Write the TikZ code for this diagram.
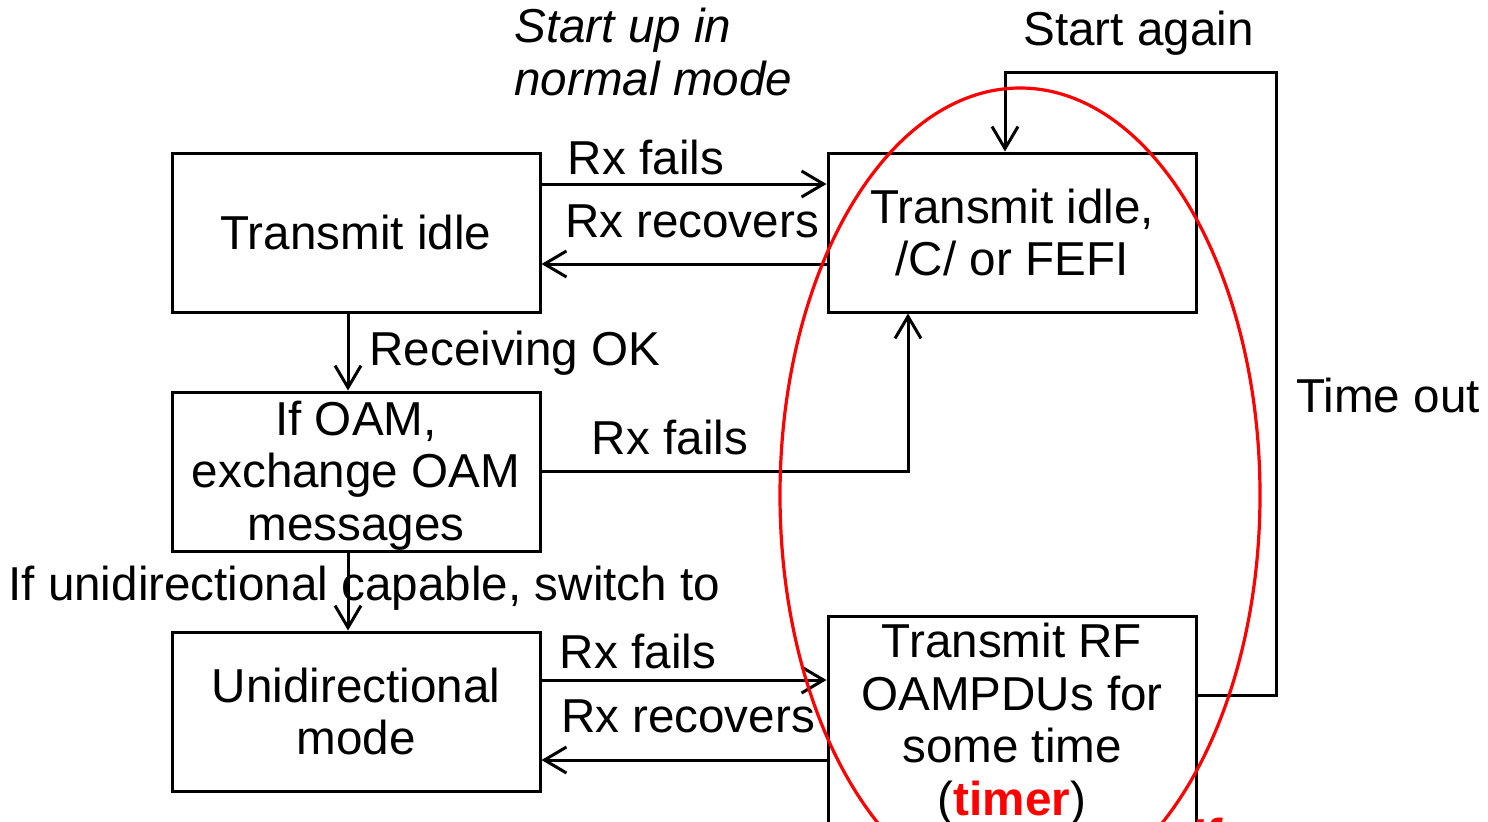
\documentclass[tikz,border=0pt]{standalone}
\usepackage{fontspec}
\setmainfont{Liberation Sans}
\usetikzlibrary{arrows.meta}
\tikzset{
  every node/.style={font=\fontsize{23.8pt}{26.3pt}\selectfont, inner sep=0pt},
  box/.style={draw, line width=1.5pt, minimum width=184pt, minimum height=79.5pt, align=center},
  arr/.style={line width=1.5pt, -{Straight Barb[length=11pt,width=13pt,line width=1.5pt]}},
  lbl/.style={anchor=base},
}
\begin{document}
\begin{tikzpicture}[x=0.5pt,y=-0.5pt]
\useasboundingbox (0,0) rectangle (1488,821);
\clip (0,0) rectangle (1488,821);
% boxes
\node[box] (A) at (356,232.5) {Transmit idle};
\node[box] (B) at (1012,232.5) {Transmit idle,\\/C/ or FEFI};
\node[box] (C) at (356,471.5) {};
\node[align=center] (Ct) at (356,475.5) {If OAM,\\exchange OAM\\messages};
\node[box] (D) at (356,711.5) {Unidirectional\\mode};
\node[box, minimum height=132pt] (E) at (1012,748) {};
\node[align=center] (Et) at (1012,724) {Transmit RF\\OAMPDUs for\\some time\\(\textcolor{red}{\textbf{timer}})};
% connectors
\draw[arr] (A.east |- 0,184) -- (B.west |- 0,184);
\draw[arr] (B.west |- 0,264) -- (A.east |- 0,264);
\draw[arr] (A.south -| 348,0) -- (C.north -| 348,0);
\draw[arr] (C.east) -| (B.south -| 908,0);
\draw[arr] (C.south -| 348,0) -- (D.north -| 348,0);
\draw[arr] (D.east |- 0,680) -- (E.west |- 0,680);
\draw[arr] (E.west |- 0,760) -- (D.east |- 0,760);
\coordinate (t1) at (1276,695);
\coordinate (t2) at (1276,72);
\coordinate (t3) at (1005,72);
\draw[arr] (E.east |- t1) -- (t1) -- (t2) -- (t3) -- (B.north -| t3);
% labels
\node[lbl] (l1) at (646,174) {Rx fails};
\node[lbl] (l2) at (692,237) {Rx recovers};
\node[lbl,anchor=base west] (l3) at (369,365) {Receiving OK};
\node[lbl] (l4) at (670,454) {Rx fails};
\node[lbl,anchor=base west] (l5) at (8,600) {If unidirectional capable, switch to};
\node[lbl] (l6) at (638,668) {Rx fails};
\node[lbl] (l7) at (688,732) {Rx recovers};
\node[lbl,anchor=base west] (l8) at (1296,412) {Time out};
\node[lbl,anchor=base west] (l9) at (1023,45) {Start again};
\node[anchor=north west, align=left, font=\fontsize{23.8pt}{26.3pt}\selectfont\itshape] (l10) at (514,8) {Start up in\\normal mode};
% red ellipse
\draw[red, line width=1.6pt] (E.center |- 0,495) ++(8,0) ellipse [x radius=240, y radius=407];
\node[anchor=base west, text=red, font=\fontsize{23.8pt}{26.3pt}\selectfont\bfseries\itshape] (l11) at (1190,852) {If};
\end{tikzpicture}
\end{document}
